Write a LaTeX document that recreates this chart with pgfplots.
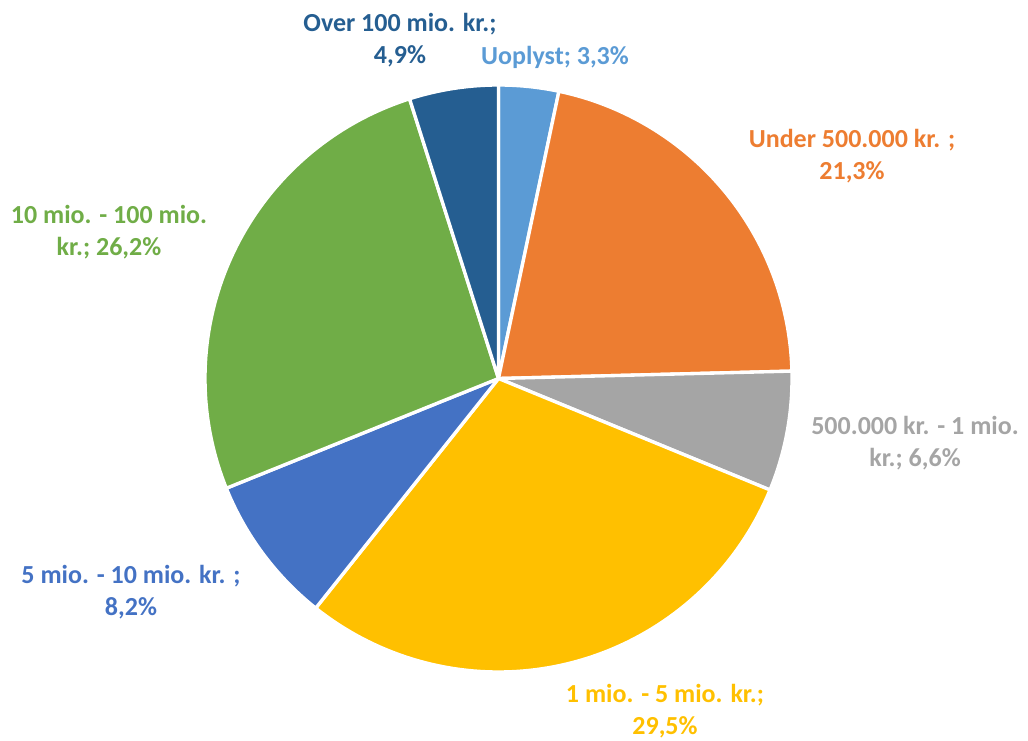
\documentclass[border=0pt]{standalone}
\usepackage{pgfplots}
\pgfplotsset{compat=1.18}
\usepackage{fontspec}
\setmainfont{Carlito}
\definecolor{cUopl}{HTML}{5B9BD5}
\definecolor{cUnder}{HTML}{ED7D31}
\definecolor{cHalf}{HTML}{A5A5A5}
\definecolor{cOne}{HTML}{FFC000}
\definecolor{cFive}{HTML}{4472C4}
\definecolor{cTen}{HTML}{70AD47}
\definecolor{cOver}{HTML}{255E91}
% shares (percent), clockwise from 12 o'clock:
% Uoplyst 3.3; Under 500.000 21.3; 500.000-1 mio. 6.6; 1-5 mio. 29.5;
% 5-10 mio. 8.2; 10-100 mio. 26.2; Over 100 mio. 4.9
% cumulative bounds: 0, 3.3, 24.6, 31.2, 60.7, 68.9, 95.1, 100
\newcommand{\slice}[3]{%
  \addplot[fill=#3, draw=white, line width=2.5pt, line join=round,
    domain=#1:#2, samples=80, variable=\t]
    ({498.5+293.5*cos(90-3.6*\t)},{361.5+293.5*sin(90-3.6*\t)})
    -- (axis cs:498.5,361.5) -- cycle;}
\tikzset{lab/.style={font=\bfseries\fontsize{19.5}{24}\selectfont, align=center, inner sep=0pt}}
\begin{document}
\begin{tikzpicture}
\begin{axis}[
  width=771pt, height=555pt, scale only axis,
  xmin=0, xmax=1028, ymin=0, ymax=740,
  hide axis, clip=false,
]
\slice{0}{3.3}{cUopl}
\slice{3.3}{24.6}{cUnder}
\slice{24.6}{31.2}{cHalf}
\slice{31.2}{60.7}{cOne}
\slice{60.7}{68.9}{cFive}
\slice{68.9}{95.1}{cTen}
\slice{95.1}{100}{cOver}
\node[lab, text=cOver] at (axis cs:400,699.5) {Over 100 mio. kr.;\\4,9\%};
\node[lab, text=cUopl] at (axis cs:555,683) {Uoplyst; 3,3\%};
\node[lab, text=cUnder] at (axis cs:852,584) {Under 500.000 kr. ;\\21,3\%};
\node[lab, text=cHalf] at (axis cs:915,296.5) {500.000 kr. - 1 mio.\\kr.; 6,6\%};
\node[lab, text=cOne] at (axis cs:665,29) {1 mio. - 5 mio. kr.;\\29,5\%};
\node[lab, text=cFive] at (axis cs:131,148) {5 mio. - 10 mio. kr. ;\\8,2\%};
\node[lab, text=cTen] at (axis cs:109,508) {10 mio. - 100 mio.\\kr.; 26,2\%};
\coordinate (SW) at (rel axis cs:0,0);
\coordinate (NE) at (rel axis cs:1,1);
\end{axis}
\pgfresetboundingbox
\path[use as bounding box] (SW) rectangle (NE);
\end{tikzpicture}
\end{document}
